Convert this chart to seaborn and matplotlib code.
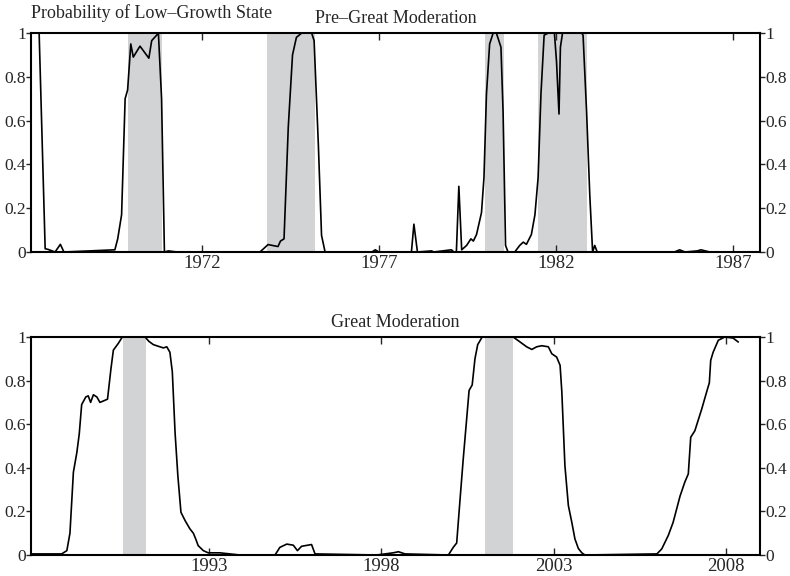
import matplotlib
matplotlib.use("Agg")
import matplotlib.pyplot as plt
import seaborn as sns
import pandas as pd

# ---------------- data ----------------
pre_years = [1967.17, 1967.40, 1967.57, 1967.65, 1967.85, 1968.00, 1968.10, 1969.54, 1969.62, 1969.73,
             1969.83, 1969.90, 1969.99, 1970.06, 1970.25, 1970.50, 1970.58, 1970.72, 1970.77, 1970.86,
             1970.94, 1971.05, 1971.30, 1973.64, 1973.87, 1974.05, 1974.15, 1974.22, 1974.32, 1974.44,
             1974.56, 1974.67, 1974.82, 1975.10, 1975.17, 1975.29, 1975.38, 1975.48, 1976.80, 1976.90,
             1977.00, 1977.92, 1977.99, 1978.09, 1978.49, 1978.55, 1979.05, 1979.12, 1979.19, 1979.26,
             1979.34, 1979.48, 1979.60, 1979.67, 1979.76, 1979.90, 1979.97, 1980.04, 1980.13, 1980.23,
             1980.32, 1980.45, 1980.51, 1980.58, 1980.65, 1980.84, 1980.98, 1981.08, 1981.17, 1981.31,
             1981.41, 1981.50, 1981.58, 1981.67, 1981.79, 1981.96, 1982.02, 1982.09, 1982.13, 1982.19,
             1982.73, 1982.77, 1982.87, 1982.96, 1983.04, 1983.10, 1983.17, 1985.35, 1985.50, 1985.65,
             1986.00, 1986.10, 1986.35, 1987.75]
pre_prob = [1.0, 1.0, 0.015, 0.012, 0.0, 0.035, 0.0, 0.01, 0.06, 0.17,
            0.70, 0.74, 0.95, 0.89, 0.94, 0.885, 0.965, 0.99, 1.0, 0.70,
            0.0, 0.005, 0.0, 0.0, 0.034, 0.028, 0.025, 0.05, 0.06, 0.57,
            0.90, 0.98, 1.0, 1.0, 0.965, 0.49, 0.076, 0.0, 0.0, 0.01,
            0.0, 0.0, 0.127, 0.0, 0.005, 0.0, 0.01, 0.0, 0.0, 0.30,
            0.01, 0.03, 0.06, 0.05, 0.08, 0.18, 0.34, 0.72, 0.95, 1.0,
            1.0, 0.935, 0.64, 0.03, 0.0, 0.0, 0.03, 0.045, 0.035, 0.08,
            0.17, 0.34, 0.72, 0.99, 1.0, 1.0, 0.87, 0.63, 0.935, 1.0,
            1.0, 0.99, 0.64, 0.26, 0.0, 0.03, 0.0, 0.0, 0.01, 0.0,
            0.005, 0.01, 0.0, 0.0]

gm_years = [1987.86, 1988.73, 1988.88, 1988.97, 1989.07, 1989.17, 1989.24, 1989.31, 1989.43, 1989.50,
            1989.57, 1989.65, 1989.75, 1989.84, 1989.99, 1990.06, 1990.16, 1990.23, 1990.37, 1990.49,
            1991.15, 1991.26, 1991.39, 1991.58, 1991.68, 1991.78, 1991.87, 1991.94, 1992.02, 1992.10,
            1992.19, 1992.31, 1992.45, 1992.55, 1992.62, 1992.69, 1992.84, 1992.98, 1993.32, 1993.90,
            1994.92, 1995.06, 1995.26, 1995.45, 1995.57, 1995.69, 1995.98, 1996.08, 1997.87, 1998.35,
            1998.50, 1998.69, 1999.95, 2000.09, 2000.19, 2000.29, 2000.38, 2000.48, 2000.55, 2000.64,
            2000.72, 2000.80, 2000.93, 2001.83, 2002.03, 2002.22, 2002.37, 2002.51, 2002.66, 2002.85,
            2002.95, 2003.09, 2003.19, 2003.24, 2003.33, 2003.43, 2003.53, 2003.62, 2003.72, 2003.82,
            2003.91, 2006.00, 2006.14, 2006.33, 2006.47, 2006.67, 2006.81, 2006.91, 2006.98, 2007.10,
            2007.30, 2007.44, 2007.52, 2007.56, 2007.63, 2007.78, 2007.97, 2008.21, 2008.36]
gm_prob = [0.005, 0.005, 0.02, 0.10, 0.38, 0.47, 0.556, 0.69, 0.725, 0.73,
           0.70, 0.735, 0.725, 0.70, 0.71, 0.715, 0.855, 0.94, 0.97, 1.0,
           1.0, 0.98, 0.965, 0.955, 0.95, 0.955, 0.93, 0.84, 0.56, 0.365,
           0.196, 0.158, 0.12, 0.10, 0.073, 0.043, 0.02, 0.01, 0.01, 0.0,
           0.0, 0.035, 0.05, 0.045, 0.02, 0.04, 0.048, 0.005, 0.0, 0.01,
           0.015, 0.005, 0.0, 0.035, 0.055, 0.26, 0.44, 0.625, 0.755, 0.78,
           0.90, 0.965, 1.0, 1.0, 0.977, 0.955, 0.943, 0.955, 0.96, 0.955,
           0.923, 0.908, 0.87, 0.75, 0.41, 0.227, 0.15, 0.074, 0.03, 0.01,
           0.0, 0.005, 0.028, 0.09, 0.15, 0.27, 0.335, 0.372, 0.54, 0.57,
           0.67, 0.747, 0.79, 0.893, 0.93, 0.985, 1.0, 0.995, 0.977]

pre_recession_start = [1969.92, 1973.84, 1980.00, 1981.50]
pre_recession_end = [1970.87, 1975.19, 1980.53, 1982.88]
gm_recession_start = [1990.50, 2001.00]
gm_recession_end = [1991.18, 2001.83]

pre_ticks = [1972, 1977, 1982, 1987]
gm_ticks = [1993, 1998, 2003, 2008]
y_ticks = [0, 0.2, 0.4, 0.6, 0.8, 1.0]
y_labels = ["0", "0.2", "0.4", "0.6", "0.8", "1"]

# ---------------- style ----------------
sns.set_style("white")
plt.rcParams["font.family"] = ["Liberation Serif", "DejaVu Serif"]

fig = plt.figure(figsize=(7.9, 5.76), dpi=100)
ax1 = fig.add_axes([31 / 790, 1 - 252 / 576, 729 / 790, 219 / 576])
ax2 = fig.add_axes([31 / 790, 1 - 555 / 576, 729 / 790, 218 / 576])

shade = "#d2d3d5"
ytick_fs = 12.5
xtick_fs = 13.5
title_fs = 13


def draw(ax, xs, ys, rs, re, ticks, xlim, title):
    for s, e in zip(rs, re):
        ax.axvspan(s, e, color=shade, lw=0, zorder=0)
    df = pd.DataFrame({"year": xs, "prob": ys})
    sns.lineplot(data=df, x="year", y="prob", ax=ax, color="black", lw=1.2, zorder=3)
    ax.set_xlim(*xlim)
    ax.set_ylim(0, 1)
    ax.set_xticks(ticks)
    ax.set_xticklabels([str(t) for t in ticks], fontsize=xtick_fs)
    ax.set_yticks(y_ticks)
    ax.set_yticklabels(y_labels, fontsize=ytick_fs)
    ax.tick_params(axis="x", direction="in", top=True, bottom=True, length=5, width=1, pad=2)
    ax.tick_params(axis="y", direction="out", left=True, right=True, labelleft=True,
                   labelright=True, length=3.5, width=1, pad=0.3)
    ax.set_xlabel("")
    ax.set_ylabel("")
    for sp in ax.spines.values():
        sp.set_visible(True)
        sp.set_color("black")
        sp.set_linewidth(1.5)
    ax.set_title(title, fontsize=title_fs, pad=7)


draw(ax1, pre_years, pre_prob, pre_recession_start, pre_recession_end, pre_ticks,
     (1967.17, 1987.77), "Pre–Great Moderation")
draw(ax2, gm_years, gm_prob, gm_recession_start, gm_recession_end, gm_ticks,
     (1987.84, 2008.99), "Great Moderation")

fig.text(31 / 790, 1 - 13 / 576, "Probability of Low–Growth State", fontsize=title_fs,
         ha="left", va="center")

fig.savefig("out.png", dpi=100)
